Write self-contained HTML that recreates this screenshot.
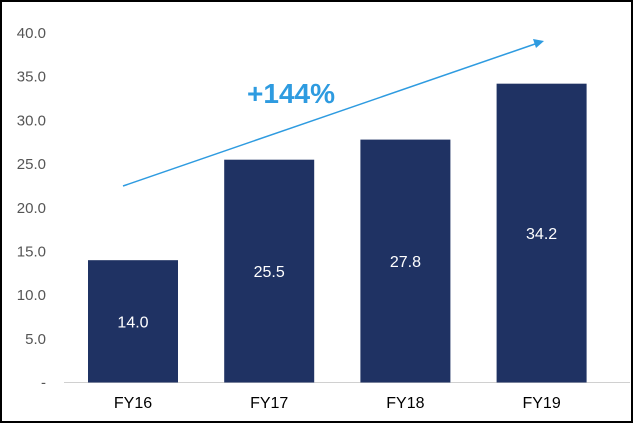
<!DOCTYPE html>
<html><head><meta charset="utf-8"><style>
body{margin:0;background:#fff}
svg{display:block;font-family:"Liberation Sans",Arial,sans-serif}
</style></head><body>
<svg width="634" height="424">
<rect x="1" y="1" width="631" height="421" fill="#fff" stroke="#000" stroke-width="2"/>
<g id="yaxis"></g>
<line x1="64" y1="382.5" x2="630" y2="382.5" stroke="#d0d0d0" stroke-width="1"/>
<g id="bars"></g>
<line x1="123" y1="186" x2="535" y2="44" stroke="#2e9be0" stroke-width="1.5"/>
<polygon points="544,41 533,39 536,48" fill="#2e9be0"/>
<text x="291" y="103" text-anchor="middle" font-size="28" font-weight="bold" fill="#2e9be0">+144%</text>
</svg>
<script>
const categories=["FY16","FY17","FY18","FY19"];
const values=[14.0,25.5,27.8,34.2];
const ticks=[0,5,10,15,20,25,30,35,40];
const tickLabels=["-","5.0","10.0","15.0","20.0","25.0","30.0","35.0","40.0"];
const NS="http://www.w3.org/2000/svg";
const y0=382.5,y1=33,ymax=40;
const y=v=>y0-(v/ymax)*(y0-y1);
const x=i=>133+i*136.2;
const ya=document.getElementById('yaxis'),bg=document.getElementById('bars');
ticks.forEach((t,i)=>{const e=document.createElementNS(NS,'text');
e.setAttribute('x',46);e.setAttribute('y',y(t)+5);e.setAttribute('text-anchor','end');
e.setAttribute('font-size','15');e.setAttribute('fill','#555');e.textContent=tickLabels[i];


ya.appendChild(e);});
categories.forEach((c,i)=>{const r=document.createElementNS(NS,'rect');
r.setAttribute('x',x(i)-45);r.setAttribute('width',90);r.setAttribute('y',y(values[i]));r.setAttribute('height',y0-y(values[i]));
r.setAttribute('fill','#1f3263');


bg.appendChild(r);
const t=document.createElementNS(NS,'text');
t.setAttribute('x',x(i));t.setAttribute('y',(y(values[i])+y0)/2+6);t.setAttribute('text-anchor','middle');
t.setAttribute('font-size','16');t.setAttribute('fill','#fff');t.textContent=values[i].toFixed(1);


bg.appendChild(t);
const l=document.createElementNS(NS,'text');
l.setAttribute('x',x(i));l.setAttribute('y',408);l.setAttribute('text-anchor','middle');
l.setAttribute('font-size','16');l.setAttribute('fill','#000');l.textContent=c;


bg.appendChild(l);});
</script>
</body></html>
